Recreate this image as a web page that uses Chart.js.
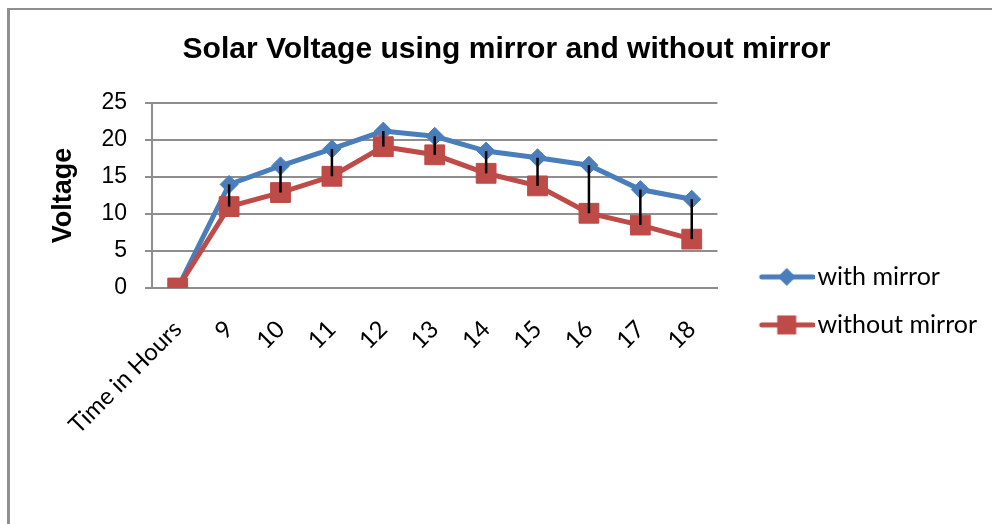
<!DOCTYPE html>
<html>
<head>
<meta charset="utf-8">
<script src="https://cdn.jsdelivr.net/npm/chart.js@4.4.1/dist/chart.umd.min.js"></script>
<style>
    html, body { margin: 0; padding: 0; background: #fff; overflow: hidden; }
    #frame {
        position: absolute; left: 7px; top: 8px; width: 1000px; height: 600px;
        border-left: 3px solid #8f8f8f; border-top: 2px solid #8f8f8f;
    }
    #chart { position: absolute; left: 0; top: 0; }
</style>
</head>
<body>
<div id="frame"></div>
<canvas id="chart" width="992" height="524"></canvas>
<script>
// chart data
var hours = ['Time in Hours', '9', '10', '11', '12', '13', '14', '15', '16', '17', '18'];
var withMirror = [0, 14, 16.5, 18.8, 21.2, 20.5, 18.5, 17.6, 16.6, 13.3, 12];
var withoutMirror = [0, 11, 12.9, 15.1, 19.1, 18, 15.5, 13.8, 10.1, 8.5, 6.6];
var yTicks = [0, 5, 10, 15, 20, 25];

var blue = '#4a7ebb';
var red = '#be4b48';
var gridGray = '#8e8e8e';

// legend swatch: a short line with the marker in the middle
function legendSwatch(color, marker) {
    var c = document.createElement('canvas');
    c.width = 84;
    c.height = 26;
    var g = c.getContext('2d');
    g.strokeStyle = color;
    g.fillStyle = color;
    g.lineWidth = 5;
    g.lineCap = 'round';
    g.beginPath();
    g.moveTo(31, 13);
    g.lineTo(82, 13);
    g.stroke();
    g.beginPath();
    if (marker === 'diamond') {
        g.moveTo(56, 4); g.lineTo(65, 13); g.lineTo(56, 22); g.lineTo(47, 13);
        g.closePath();
    } else {
        g.rect(46.5, 3.5, 19, 19);
    }
    g.fill();
    return c;
}

// black high-low lines between the two series
var dropLines = {
    id: 'dropLines',
    afterDatasetsDraw: function (chart) {
        var a = chart.getDatasetMeta(0).data;
        var b = chart.getDatasetMeta(1).data;
        var ctx = chart.ctx;
        ctx.save();
        ctx.strokeStyle = '#000';
        ctx.lineWidth = 2.5;
        for (var i = 0; i < a.length; i++) {
            if (Math.abs(a[i].y - b[i].y) < 1) continue;
            ctx.beginPath();
            ctx.moveTo(a[i].x, a[i].y);
            ctx.lineTo(b[i].x, b[i].y);
            ctx.stroke();
        }
        ctx.restore();
    }
};

var swatches = [legendSwatch(blue, 'diamond'), legendSwatch(red, 'square')];

new Chart(document.getElementById('chart'), {
    type: 'line',
    data: {
        labels: hours,
        datasets: [{
            label: 'with mirror',
            data: withMirror,
            borderColor: blue,
            backgroundColor: blue,
            borderWidth: 5,
            pointStyle: 'rectRot',
            pointRadius: 9,
            pointBorderWidth: 1,
            order: 1
        }, {
            label: 'without mirror',
            data: withoutMirror,
            borderColor: red,
            backgroundColor: red,
            borderWidth: 5,
            pointStyle: 'rect',
            pointRadius: 14,
            pointBorderWidth: 1,
            order: 0
        }]
    },
    options: {
        responsive: false,
        animation: false,
        layout: { padding: { left: 26, right: 5, top: 0, bottom: 0 } },
        scales: {
            x: {
                offset: true,
                grid: { display: false, drawTicks: false },
                border: { display: true, color: gridGray, width: 2 },
                ticks: {
                    autoSkip: false,
                    minRotation: 45,
                    maxRotation: 45,
                    padding: 27,
                    color: '#000',
                    font: { family: 'Lato', size: 24 }
                },
                afterFit: function (scale) { scale.height = 236; }
            },
            y: {
                min: 0,
                max: 25,
                afterBuildTicks: function (scale) {
                    scale.ticks = yTicks.map(function (v) { return { value: v }; });
                },
                grid: { color: gridGray, lineWidth: 2, tickLength: 7 },
                border: { color: gridGray, width: 2 },
                ticks: {
                    padding: 18,
                    color: '#000',
                    font: { family: "'Liberation Sans', Arial, sans-serif", size: 23 }
                },
                title: {
                    display: true,
                    text: 'Voltage',
                    color: '#000',
                    padding: { top: 21, bottom: 0 },
                    font: { family: "'Liberation Sans', Arial, sans-serif", size: 27, weight: 'bold' }
                },
                afterFit: function (scale) { scale.width = 126; }
            }
        },
        plugins: {
            title: {
                display: true,
                text: 'Solar Voltage using mirror and without mirror',
                color: '#000',
                padding: { top: 32, bottom: 35 },
                font: { family: "'Liberation Sans', Arial, sans-serif", size: 30, weight: 'bold' }
            },
            legend: {
                position: 'right',
                align: 'start',
                maxWidth: 300,
                title: { display: true, text: '', padding: { top: 227, bottom: 0 } },
                labels: {
                    usePointStyle: true,
                    pointStyleWidth: 64.5,
                    padding: 23,
                    color: '#000',
                    font: { family: 'Lato', size: 25 },
                    generateLabels: function (chart) {
                        return chart.data.datasets.map(function (ds, i) {
                            return {
                                text: ds.label,
                                fontColor: '#000',
                                pointStyle: swatches[i],
                                fillStyle: ds.borderColor,
                                strokeStyle: ds.borderColor,
                                lineWidth: 0,
                                datasetIndex: i
                            };
                        });
                    }
                }
            },
            tooltip: { enabled: false }
        }
    },
    plugins: [dropLines]
});
</script>
</body>
</html>
